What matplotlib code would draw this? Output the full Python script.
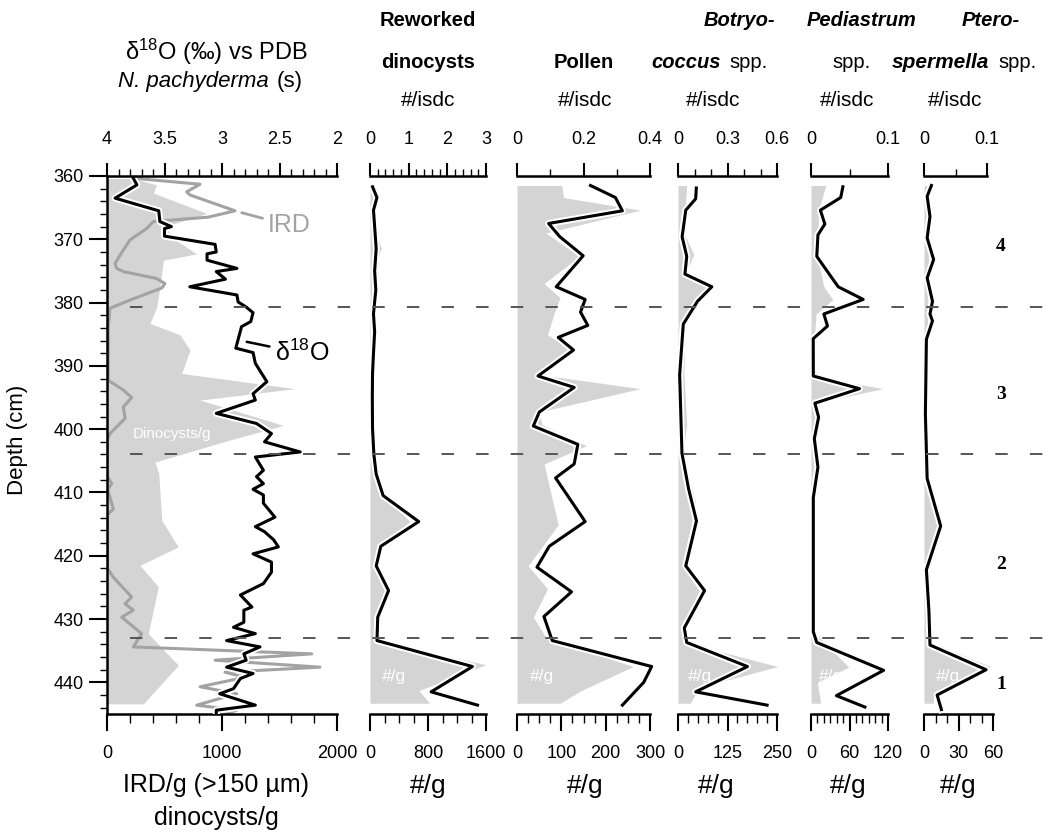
import matplotlib
matplotlib.use("Agg")
import matplotlib.pyplot as plt
from matplotlib import patheffects as pe
from matplotlib import transforms as mtransforms
from matplotlib.lines import Line2D
from matplotlib.ticker import MultipleLocator, FuncFormatter

plt.rcParams['font.family'] = ['Liberation Sans', 'DejaVu Sans']

# ---------------- data (depth in cm) ----------------
# panel 1: d18O (top scale), IRD/g line and dinocysts/g fill (bottom scale)
d18o_depth = [360.4, 361.4, 363.5, 365.5, 367.2, 368.0, 368.3, 369.5, 370.8, 372.0,
              372.3, 373.3, 374.6, 375.1, 376.3, 377.5, 378.8, 379.9, 380.7, 381.6,
              383.0, 383.8, 387.2, 387.9, 389.6, 392.5, 394.4, 395.4, 397.5, 399.1,
              400.7, 402.0, 403.6, 404.4, 406.5, 407.5, 408.6, 409.5, 410.4, 411.7,
              413.9, 415.4, 416.2, 417.5, 418.6, 419.7, 421.0, 422.6, 424.4, 426.2,
              428.1, 428.6, 430.5, 431.3, 432.3, 433.4, 434.4, 435.5, 436.5, 437.6,
              438.6, 439.4, 441.0, 441.8, 443.6, 444.4, 445.0]
d18o = [3.77, 3.74, 3.93, 3.55, 3.54, 3.44, 3.50, 3.50, 3.06, 3.05,
        3.13, 3.13, 2.87, 3.05, 2.97, 3.28, 2.87, 2.86, 2.79, 2.73,
        2.75, 2.83, 2.88, 2.73, 2.71, 2.61, 2.73, 2.71, 3.05, 2.70,
        2.57, 2.63, 2.32, 2.71, 2.64, 2.70, 2.64, 2.73, 2.64, 2.64,
        2.54, 2.71, 2.63, 2.55, 2.51, 2.73, 2.57, 2.57, 2.64, 2.84,
        2.74, 2.81, 2.81, 2.90, 2.71, 2.96, 2.67, 2.81, 2.79, 2.96,
        2.73, 2.84, 2.90, 3.02, 2.71, 3.05, 3.05]

ird_depth = [360.4, 361.3, 362.5, 363.0, 365.5, 366.5, 367.2, 368.3, 370.1, 371.7,
             373.8, 374.6, 375.1, 376.2, 377.0, 377.7, 379.6, 380.9, 383.8, 392.3,
             393.8, 395.0, 396.5, 398.3, 400.7, 401.7, 407.5, 408.6, 409.5, 412.6,
             413.5, 422.0, 423.4, 426.5, 427.6, 428.6, 429.7, 432.3, 434.4, 435.5,
             436.5, 437.6, 438.4, 439.2, 440.7, 441.8, 443.6, 444.4, 445.0]
ird = [258, 809, 693, 722, 1113, 881, 403, 345, 200, 142,
       70, 84, 142, 432, 504, 476, 200, 26, 11, 11,
       142, 214, 142, 157, 26, 3, 5, 41, 5, 55,
       5, 5, 55, 214, 157, 229, 128, 301, 229, 1780,
       939, 1852, 1026, 1200, 809, 1128, 780, 1128, 1026]

dino_depth = [360.4, 361.4, 362.7, 365.9, 368.0, 369.9, 372.3, 373.3, 377.5, 380.7,
              383.3, 385.1, 387.5, 391.2, 393.6, 395.4, 399.4, 401.7, 405.2, 407.0,
              414.4, 418.6, 421.5, 424.9, 432.3, 437.3, 443.4]
dino = [229, 432, 403, 867, 504, 577, 780, 490, 461, 432,
        374, 635, 722, 650, 1635, 809, 1533, 1070, 417, 450,
        476, 620, 287, 446, 359, 620, 316]

# reworked dinocysts
rew_isdc_depth = [361.7, 363.4, 365.4, 368.0, 371.5, 375.0, 378.0, 381.8, 384.6, 388.0,
                  391.3, 395.0, 399.8, 404.0, 407.1, 410.5, 414.6, 418.5, 421.6, 425.5,
                  429.7, 433.4, 437.5, 441.5, 443.6]
rew_isdc = [0.065, 0.18, 0.09, 0.12, 0.16, 0.12, 0.15, 0.09, 0.12, 0.09,
            0.065, 0.06, 0.065, 0.1, 0.16, 0.34, 1.26, 0.28, 0.16, 0.48,
            0.2, 0.18, 2.65, 1.58, 2.78]
rew_g_depth = [361.5, 365.0, 368.0, 371.5, 374.0, 378.0, 382.0, 388.0, 392.0, 396.0,
               400.0, 404.0, 407.1, 410.5, 414.6, 418.5, 421.6, 425.5, 429.7, 433.4,
               437.2, 441.3, 443.3]
rew_g = [30, 40, 60, 157, 60, 40, 30, 40, 30, 50,
         30, 30, 60, 180, 552, 110, 60, 207, 70, 50,
         1600, 674, 822]

# pollen
pol_isdc_depth = [361.5, 363.4, 365.5, 367.5, 369.6, 372.6, 377.5, 379.5, 381.5, 383.6,
                  385.5, 387.5, 391.6, 393.4, 397.3, 399.5, 402.4, 405.5, 407.7, 414.6,
                  418.5, 421.8, 425.7, 429.6, 433.4, 437.5, 440.0, 443.6]
pol_isdc = [0.221, 0.296, 0.317, 0.095, 0.129, 0.199, 0.118, 0.205, 0.191, 0.213,
            0.124, 0.17, 0.063, 0.172, 0.067, 0.049, 0.183, 0.172, 0.116, 0.205,
            0.097, 0.06, 0.164, 0.081, 0.106, 0.405, 0.381, 0.317]
pol_g_depth = [361.5, 363.4, 365.4, 369.0, 372.7, 377.0, 379.2, 382.3, 385.1, 387.4,
               391.4, 393.6, 397.3, 399.3, 402.6, 405.5, 415.1, 421.6, 425.2, 429.7,
               432.9, 437.5, 441.3, 443.3]
pol_g = [101, 105, 278, 65, 141, 61, 97, 81, 69, 121,
         53, 278, 49, 57, 157, 61, 93, 25, 69, 37,
         65, 262, 145, 97]

# Botryococcus spp.
bot_isdc_depth = [361.9, 363.6, 365.4, 369.6, 372.7, 375.5, 377.5, 379.8, 383.4, 391.4,
                  403.8, 409.4, 414.5, 421.6, 425.5, 431.4, 433.7, 437.5, 441.5, 443.6]
bot_isdc = [0.111, 0.107, 0.047, 0.025, 0.053, 0.042, 0.205, 0.118, 0.032, 0.01,
            0.024, 0.064, 0.112, 0.047, 0.161, 0.038, 0.053, 0.421, 0.107, 0.54]
bot_g_depth = [361.5, 365.4, 369.0, 372.4, 375.5, 377.5, 379.8, 383.4, 391.4, 399.3,
               403.8, 411.7, 421.6, 425.5, 431.4, 433.7, 437.5, 440.8, 443.3]
bot_g = [22, 18, 15, 40, 18, 76, 50, 18, 15, 22,
         12, 45, 10, 54, 10, 18, 252, 54, 31]

# Pediastrum spp.
ped_isdc_depth = [361.7, 363.4, 365.4, 367.6, 369.3, 372.7, 377.5, 379.5, 381.8, 383.7,
                  385.7, 391.6, 393.6, 395.9, 398.1, 401.5, 406.0, 410.8, 432.0, 433.7,
                  438.1, 442.1, 443.9]
ped_isdc = [0.0414, 0.0386, 0.0122, 0.018, 0.009, 0.0075, 0.0353, 0.0678, 0.0167, 0.0214,
            0.0029, 0.003, 0.063, 0.005, 0.0099, 0.0043, 0.009, 0.003, 0.003, 0.0075,
            0.0943, 0.033, 0.070]
ped_g_depth = [361.5, 365.4, 372.7, 377.5, 379.5, 381.8, 385.7, 391.6, 393.6, 395.9,
               401.5, 410.8, 432.0, 437.6, 440.0, 443.3]
ped_g = [23, 12, 10, 20, 34, 8, 5, 5, 112, 6,
         8, 3, 4, 59, 10, 15]

# Pterospermella spp.
pte_isdc_depth = [361.5, 363.2, 366.4, 369.8, 373.2, 376.1, 379.8, 381.8, 382.9, 385.8,
                  397.6, 407.8, 415.3, 422.2, 428.7, 434.1, 438.0, 442.0, 444.3]
pte_isdc = [0.0118, 0.005, 0.0095, 0.005, 0.0153, 0.005, 0.0135, 0.0095, 0.0135, 0.0038,
            0.0022, 0.005, 0.0265, 0.0038, 0.0078, 0.0095, 0.0986, 0.0208, 0.0276]
pte_g_depth = [361.5, 372.0, 385.0, 400.0, 408.0, 415.0, 422.0, 433.5, 437.5, 441.5, 443.3]
pte_g = [4, 4, 3, 3, 4, 13, 3, 4, 58, 9, 8]

zone_bounds = [380.7, 404.0, 433.0]
zone_names = ['4', '3', '2', '1']
zone_label_depth = [371.2, 394.5, 421.4, 440.4]

# ---------------- layout ----------------
W, H = 1050, 834
def fx(px):
    return px / W
def fy(py):
    return 1 - py / H

top_px, bot_px = 176, 714
GRAY_FILL = '#d4d4d4'
GRAY_LINE = '#a3a3a3'
halo = [pe.Stroke(linewidth=5, foreground='white'), pe.Normal()]
fmt = FuncFormatter(lambda v, p: '%g' % round(v, 6))

fig = plt.figure(figsize=(W / 100, H / 100), dpi=100)

# (x0 px, x1 px, bottom xlim, top xlim, bottom major/minor, top major/minor)
panels = [
    (107, 337, (0, 2000), (4, 2), 1000, 200, 0.5, 0.1),
    (370, 486, (0, 1600), (0, 3), 800, 200, 1, 0.2),
    (517, 650, (0, 300), (0, 0.4), 100, 25, 0.2, 0.1),
    (678, 777, (0, 250), (0, 0.6), 125, 25, 0.3, 0.1),
    (811, 888, (0, 120), (0, 0.1), 60, 10, 0.1, 0.05),
    (924, 993, (0, 60), (0, 0.1 * 69 / 63), 30, 10, 0.1, 0.05),
]
series = [
    None,
    (rew_g_depth, rew_g, rew_isdc_depth, rew_isdc),
    (pol_g_depth, pol_g, pol_isdc_depth, pol_isdc),
    (bot_g_depth, bot_g, bot_isdc_depth, bot_isdc),
    (ped_g_depth, ped_g, ped_isdc_depth, ped_isdc),
    (pte_g_depth, pte_g, pte_isdc_depth, pte_isdc),
]

axes = []
for i, (x0, x1, bxl, txl, bmaj, bmin, tmaj, tmin) in enumerate(panels):
    ax = fig.add_axes([fx(x0), fy(bot_px), (x1 - x0) / W, (bot_px - top_px) / H])
    ax.set_xlim(*bxl)
    ax.set_ylim(445, 360)
    ax.patch.set_visible(False)
    for s in ['top', 'right', 'left']:
        ax.spines[s].set_visible(False)
    ax.spines['bottom'].set_linewidth(1.8)
    ax.xaxis.set_major_locator(MultipleLocator(bmaj))
    ax.xaxis.set_minor_locator(MultipleLocator(bmin))
    ax.xaxis.set_major_formatter(fmt)
    ax.tick_params(axis='x', which='major', direction='out', length=12, width=1.5,
                   labelsize=13, pad=10)
    ax.tick_params(axis='x', which='minor', direction='out', length=6.5, width=1)
    if i == 0:
        ax.spines['left'].set_visible(True)
        ax.spines['left'].set_linewidth(1.8)
        ax.yaxis.set_major_locator(MultipleLocator(10))
        ax.yaxis.set_minor_locator(MultipleLocator(2))
        ax.tick_params(axis='y', which='major', direction='out', length=13, width=1.5,
                       labelsize=13, pad=4)
        ax.tick_params(axis='y', which='minor', direction='out', length=5, width=1)
    else:
        ax.tick_params(axis='y', which='both', left=False, labelleft=False)

    axt = ax.twiny()
    axt.set_xlim(*txl)
    for s in ['bottom', 'right', 'left']:
        axt.spines[s].set_visible(False)
    axt.spines['top'].set_linewidth(1.8)
    tend = 0.1 if i == 5 else txl[1]
    axt.spines['top'].set_bounds(min(txl[0], tend), max(txl[0], tend))
    axt.xaxis.set_major_locator(MultipleLocator(tmaj))
    axt.xaxis.set_minor_locator(MultipleLocator(tmin))
    axt.xaxis.set_major_formatter(fmt)
    axt.tick_params(axis='x', which='major', direction='out', length=9.5, width=1.5,
                    labelsize=13, pad=11)
    axt.tick_params(axis='x', which='minor', direction='out', length=5, width=1)
    if i == 5:
        axt.set_xticks([0, 0.05], minor=True)
        axt.set_xticks([0, 0.1])

    if i == 0:
        ax.fill_betweenx(dino_depth, 0, dino, color=GRAY_FILL, lw=0)
        ax.plot(ird, ird_depth, color=GRAY_LINE, lw=2.2)
        axt.plot(d18o, d18o_depth, color='black', lw=2.2, path_effects=halo)
    else:
        gd, gv, kd, kv = series[i]
        ax.fill_betweenx(gd, 0, gv, color=GRAY_FILL, lw=0)
        axt.plot(kv, kd, color='black', lw=2.2, path_effects=halo, clip_on=False)
        ax.text(0.1 * bxl[1] if i != 5 else 0.17 * bxl[1], 439.0, '#/g', color='white',
                fontsize=12.5, va='center', ha='left')
    axes.append((ax, axt))

ax1 = axes[0][0]
ax1.annotate('IRD', xy=(1171, 365.8), xytext=(1400, 367.8), color=GRAY_LINE,
             fontsize=18, va='center', ha='left',
             arrowprops=dict(arrowstyle='-', color=GRAY_LINE, lw=2,
                             shrinkA=2, shrinkB=0))
ax1.annotate(r'$\mathregular{\delta^{18}O}$', xy=(1215, 386.2), xytext=(1460, 388.0),
             color='black', fontsize=18, va='center', ha='left',
             arrowprops=dict(arrowstyle='-', color='black', lw=1.8,
                             shrinkA=2, shrinkB=0))
ax1.text(226, 400.8, 'Dinocysts/g', color='white', fontsize=11, va='center', ha='left')

# zone boundaries and numbers
btr = mtransforms.blended_transform_factory(fig.transFigure, ax1.transData)
for d in zone_bounds:
    fig.add_artist(Line2D([fx(130), fx(1045)], [d, d], transform=btr, color='#555555',
                          lw=1.4, linestyle=(0, (6.4, 11.4))))
for name, d in zip(zone_names, zone_label_depth):
    fig.text(fx(1001), d, name, transform=btr, ha='center', va='center',
             fontsize=14, fontweight='bold', family=['Liberation Serif', 'DejaVu Serif'])

# headers
fig.text(fx(216), fy(52), r'$\mathregular{\delta^{18}}$O (‰) vs PDB', ha='center',
         va='center', fontsize=17)
fig.text(fx(269), fy(81), 'N. pachyderma', ha='right', va='center', fontsize=16,
         style='italic')
fig.text(fx(277), fy(81), '(s)', ha='left', va='center', fontsize=16)
fig.text(fx(428), fy(20), 'Reworked', ha='center', va='center', fontsize=14.5,
         fontweight='bold')
fig.text(fx(428), fy(62), 'dinocysts', ha='center', va='center', fontsize=14.5,
         fontweight='bold')
fig.text(fx(584), fy(62), 'Pollen', ha='center', va='center', fontsize=14.5,
         fontweight='bold')
fig.text(fx(739), fy(20), 'Botryo-', ha='center', va='center', fontsize=14.5,
         fontweight='bold', style='italic')
fig.text(fx(721), fy(62), 'coccus', ha='right', va='center', fontsize=14.5,
         fontweight='bold', style='italic')
fig.text(fx(729), fy(62), 'spp.', ha='left', va='center', fontsize=14.5)
fig.text(fx(862), fy(20), 'Pediastrum', ha='center', va='center', fontsize=14.5,
         fontweight='bold', style='italic')
fig.text(fx(852), fy(62), 'spp.', ha='center', va='center', fontsize=14.5)
fig.text(fx(991), fy(20), 'Ptero-', ha='center', va='center', fontsize=14.5,
         fontweight='bold', style='italic')
fig.text(fx(989), fy(62), 'spermella', ha='right', va='center', fontsize=15,
         fontweight='bold', style='italic')
fig.text(fx(998), fy(62), 'spp.', ha='left', va='center', fontsize=14.5)
for xc in [428, 585, 713, 847, 955]:
    fig.text(fx(xc), fy(101), '#/isdc', ha='center', va='center', fontsize=15)

# bottom labels
fig.text(fx(216), fy(785), 'IRD/g (>150 µm)', ha='center', va='center', fontsize=18)
fig.text(fx(216), fy(818), 'dinocysts/g', ha='center', va='center', fontsize=18)
for xc in [428, 585, 716, 848, 958]:
    fig.text(fx(xc), fy(786), '#/g', ha='center', va='center', fontsize=19)
fig.text(fx(18), fy(440), 'Depth (cm)', rotation=90, ha='center', va='center',
         fontsize=16)

fig.savefig('out.png', dpi=100)
